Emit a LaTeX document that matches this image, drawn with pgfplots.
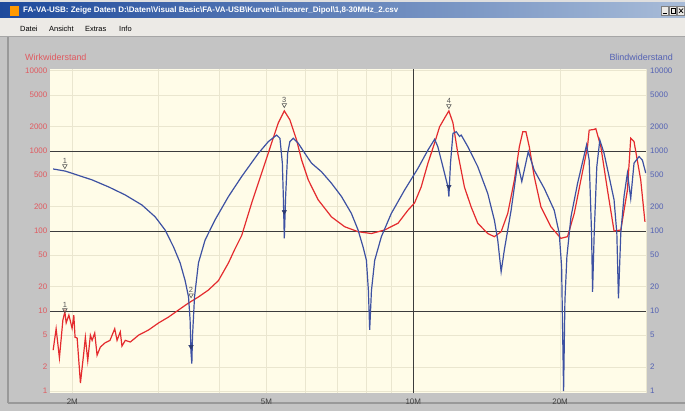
\documentclass[border=0pt]{standalone}
\usepackage{pgfplots}
\pgfplotsset{compat=1.18}
\usepackage{fontspec}
\setmainfont{Liberation Sans}

\definecolor{cream}{HTML}{FFFCE8}
\definecolor{gridl}{HTML}{EAE6CF}
\definecolor{gridd}{HTML}{3C3C3C}
\definecolor{panel}{HTML}{C4C4C4}
\definecolor{menubg}{HTML}{ECEAE6}
\definecolor{titleL}{HTML}{1E4A9C}
\definecolor{titleR}{HTML}{A8BCD8}
\definecolor{curvered}{HTML}{E42B2E}
\definecolor{curveblue}{HTML}{3D51A2}
\definecolor{lblred}{HTML}{E05A60}
\definecolor{lblblue}{HTML}{5462B4}
\definecolor{mkgray}{HTML}{555555}

\begin{document}
\begin{tikzpicture}[x=1bp,y=1bp]
\useasboundingbox (0,0) rectangle (685,411);
% window
\fill[panel] (0,0) rectangle (685,411);
\fill[gray!25] (0,408) rectangle (685,411);
\shade[left color=titleL, right color=titleR] (0,393) rectangle (685,408);
\fill[menubg] (0,375) rectangle (685,393);
\draw[gray!70] (0,374.5) -- (685,374.5);
\fill[orange!80!yellow] (10,395) rectangle (19,405);
\node[anchor=west, text=white, inner sep=0pt, font=\fontsize{8}{9}\bfseries\selectfont] at (23,400.5)
  {FA-VA-USB: Zeige Daten D:\textbackslash Daten\textbackslash Visual Basic\textbackslash FA-VA-USB\textbackslash Kurven\textbackslash Linearer\_Dipol\textbackslash 1,8-30MHz\_2.csv};
\foreach \bx in {661,669,677}
  \draw[gray, fill=menubg] (\bx,396) rectangle (\bx+7.5,405);
\draw[black] (662.5,398) -- (666.5,398);
\draw[black, line width=0.5bp] (671,398) rectangle (675,402.5);
\draw[black, line width=0.7bp] (679,398) -- (683,402.5) (679,402.5) -- (683,398);
\foreach \mx/\mt in {20/Datei, 49/Ansicht, 85/Extras, 119/Info}
  \node[anchor=west, inner sep=0pt, font=\fontsize{7.5}{8}\selectfont] at (\mx,382.5) {\mt};
\draw[gray!80, line width=2bp] (8,8) -- (8,374);
\draw[gray!80, line width=1.5bp] (8,8) -- (685,8);
\node[anchor=west, inner sep=0pt, text=lblred, font=\fontsize{9}{10}\selectfont] at (25,354) {Wirkwiderstand};
\node[anchor=east, inner sep=0pt, text=lblblue, font=\fontsize{9}{10}\selectfont] at (673,354) {Blindwiderstand};

% Wirkwiderstand (left scale)
\begin{axis}[
  scale only axis, width=596bp, height=324.6bp,
  at={(50bp,17.8bp)}, anchor=south west,
  xmode=log, ymode=log,
  xmin=1.8, xmax=30, ymin=0.94, ymax=10700,
  axis line style={draw=none},
  major tick length=0pt, minor tick length=0pt,
  axis background/.style={fill=cream},
  grid=major,
  major grid style={gridl, line width=0.9bp},
  xtick={2,3,4,5,6,7,8,9,20,30},
  xticklabels={2M,,,5M,,,,,20M,},
  ytick={1,2,5,20,50,200,500,2000,5000,10000},
  yticklabels={1,2,5,20,50,200,500,2000,5000,10000},
  extra x ticks={10}, extra x tick labels={10M},
  extra y ticks={10,100,1000}, extra y tick labels={10,100,1000},
  extra tick style={major grid style={gridd, line width=0.8bp}},
  yticklabel style={font=\fontsize{8}{9}\selectfont, text=lblred, anchor=east, inner sep=0pt, xshift=-2.5bp},
  xticklabel style={font=\fontsize{8}{9}\selectfont, text=black!75, anchor=center, inner sep=0pt, yshift=-8.5bp},
]
\addplot[curvered, line width=1.2bp] coordinates {
 (1.827,3.25) (1.853,6.0) (1.882,2.6) (1.913,7.7) (1.931,9.8) (1.943,7.1) (1.968,8.9)
 (1.998,6.1) (2.014,8.9) (2.026,4.7) (2.046,4.6) (2.078,1.26) (2.111,3.0) (2.127,4.7)
 (2.151,2.4) (2.178,5.0) (2.196,4.3) (2.223,5.3) (2.248,2.8) (2.283,3.55) (2.334,4.0)
 (2.389,4.3) (2.443,6.0) (2.470,4.3) (2.508,5.5) (2.528,3.65) (2.568,4.3) (2.630,4.1)
 (2.735,5.0) (2.867,5.8) (3.005,7.1) (3.149,8.4) (3.302,10.3) (3.462,12.6) (3.628,15)
 (3.803,18.3) (3.987,24) (4.180,40) (4.300,58) (4.449,88) (4.664,224) (4.889,530)
 (5.124,1260) (5.288,2240) (5.440,3170) (5.585,2450) (5.765,1370) (5.902,775) (6.091,435)
 (6.384,245) (6.797,150) (7.235,113) (7.707,98) (8.208,93) (8.737,103) (9.305,125)
 (9.752,182) (10.06,224) (10.38,355) (10.72,710) (11.06,1260) (11.32,2000) (11.59,2570)
 (11.83,3170) (12.06,2240) (12.34,935) (12.73,355) (13.14,200) (13.56,125) (14.21,93)
 (14.66,85) (15.14,98) (15.62,166) (16.12,435) (16.50,1130) (16.77,1740) (17.02,1740)
 (17.29,1130) (17.70,480) (18.27,200) (19.15,113) (20.07,81) (20.71,85) (21.38,166)
 (22.06,435) (22.76,1130) (22.94,1820) (23.49,1860) (23.67,1900) (24.24,1130) (25.01,325)
 (25.80,100) (26.63,103) (27.48,325) (27.91,1440) (28.35,1310) (29.26,435) (29.85,130)
};
% marker
\addplot[only marks, mark=triangle, mark size=2.6bp,
  mark options={rotate=180, draw=mkgray, fill=cream, line width=0.6bp},
  nodes near coords, point meta=explicit symbolic,
  every node near coord/.append style={font=\fontsize{7.5}{8}\selectfont, text=mkgray, anchor=south, inner sep=0pt, yshift=2.2bp}]
  coordinates {(1.931,10.3)[1] (3.503,15.8)[2] (5.44,3758)[3] (11.83,3652)[4]};
\end{axis}

% Blindwiderstand (right scale)
\begin{axis}[
  scale only axis, width=596bp, height=324.6bp,
  at={(50bp,17.8bp)}, anchor=south west,
  xmode=log, ymode=log,
  xmin=1.8, xmax=30, ymin=0.94, ymax=10700,
  axis line style={draw=none},
  major tick length=0pt, minor tick length=0pt,
  xtick=\empty,
  ytick={1,2,5,10,20,50,100,200,500,1000,2000,5000,10000},
  yticklabels={1,2,5,10,20,50,100,200,500,1000,2000,5000,10000},
  yticklabel pos=right,
  yticklabel style={font=\fontsize{8}{9}\selectfont, text=lblblue, anchor=west, inner sep=0pt, xshift=4bp},
]
\addplot[curveblue, line width=1.2bp] coordinates {
 (1.827,596) (1.936,560) (2.029,510) (2.196,435) (2.375,355) (2.568,282) (2.779,211)
 (2.958,150) (3.099,103) (3.226,63) (3.327,40) (3.406,24) (3.462,15) (3.487,7.7)
 (3.503,3.0) (3.516,2.2) (3.527,4.8) (3.561,15) (3.628,40) (3.743,77) (3.924,138)
 (4.180,270) (4.449,480) (4.813,935) (5.046,1310) (5.247,1580) (5.329,1440) (5.390,705)
 (5.415,270) (5.440,81) (5.474,270) (5.526,935) (5.585,1310) (5.675,1440) (5.810,1250)
 (5.994,935) (6.185,705) (6.484,550) (6.797,395) (7.125,270) (7.467,166) (7.707,103)
 (7.891,63) (8.015,43) (8.091,18) (8.140,5.8) (8.208,18) (8.335,43) (8.602,85)
 (9.016,166) (9.598,325) (10.22,605) (10.72,1030) (11.06,1400) (11.23,1130) (11.50,635)
 (11.78,355) (11.83,270) (11.92,705) (12.06,1660) (12.25,1740) (12.44,1520) (12.54,1580)
 (12.94,1130) (13.56,635) (14.21,295) (14.66,138) (14.90,77) (15.14,31) (15.37,58)
 (15.87,182) (16.37,705) (16.69,415) (17.21,980) (17.70,575) (18.56,340) (19.45,182)
 (19.92,93) (20.14,36) (20.33,1.0) (20.46,13.7) (20.65,48) (21.05,150) (21.72,395)
 (22.66,1190) (22.94,770) (23.20,93) (23.31,17.4) (23.49,93) (23.78,635) (24.12,1370)
 (24.61,935) (25.20,480) (25.80,245) (26.14,93) (26.34,14.4) (26.63,93) (27.04,270)
 (27.48,530) (27.91,255) (28.35,705) (29.03,850) (29.49,770) (29.96,530)
};
\addplot[only marks, mark=triangle, mark size=2.6bp,
  mark options={rotate=180, draw=mkgray, fill=cream, line width=0.6bp},
  nodes near coords, point meta=explicit symbolic,
  every node near coord/.append style={font=\fontsize{7.5}{8}\selectfont, text=mkgray, anchor=south, inner sep=0pt, yshift=2.2bp}]
  coordinates {(1.931,649)[1]};
\addplot[only marks, mark=triangle*, mark size=2.6bp,
  mark options={rotate=180, draw=curveblue!70!black, fill=curveblue!70!black}]
  coordinates {(3.503,3.58) (5.44,174) (11.83,358)};
\end{axis}
\end{tikzpicture}
\end{document}
